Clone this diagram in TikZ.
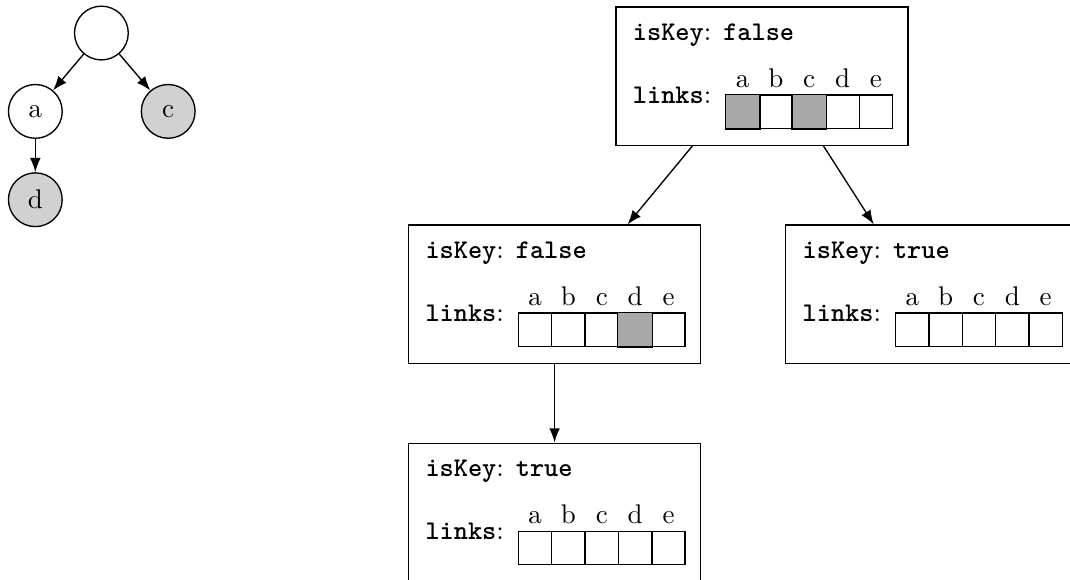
\documentclass[tikz,border=0pt]{standalone}
\usepackage{tikz}
\usepackage{xcolor}
\usetikzlibrary{positioning}
\usetikzlibrary{arrows.meta}
\usetikzlibrary{calc}

\begin{document}
\begin{tikzpicture}[
    line width=0.5pt,
    vertex/.style={draw, circle, minimum size=0.7cm, inner sep=0pt},
    leaf/.style={vertex, fill=black!18},
    trienode/.style={draw, minimum width=3.8cm, minimum height=1.8cm},
    cell/.style={draw, minimum size=0.434cm, inner sep=0pt},
    full/.style={draw, fill=black!34},
    arr/.style={-{Latex}}
]
    \path[use as bounding box, clip] (0,0) rectangle (13.93,-7.55);

    % Small tree
    \node[vertex] (root) at (1.32,-0.43) {};
    \node[vertex, on grid, below left=1.02cm and 0.86cm of root] (a) {a};
    \node[leaf, on grid, below right=1.02cm and 0.87cm of root] (c) {c};
    \node[leaf, on grid, below=1.15cm of a] (d) {d};
    \draw[arr] (root) -- (a);
    \draw[arr] (root) -- (c);
    \draw[arr] (a) -- (d);

    % Trie nodes
    \node[trienode] (top) at (9.92,-0.99) {};
    \node[trienode, on grid, below left=2.84cm and 2.70cm of top] (mid) {};
    \node[trienode, on grid, below right=2.84cm and 2.21cm of top] (right) {};
    \node[trienode, on grid, below=2.84cm of mid] (bot) {};

    % Fields and link arrays
    \foreach \bx/\val in {top/false, mid/false, right/true, bot/true} {
        \node[anchor=base west, inner sep=0pt] at ([shift={(0.22,-0.443)}]\bx.north west)
            {\texttt{\textbf{isKey}}: \texttt{\textbf{\val}}};
        \node[anchor=base west, inner sep=0pt] at ([shift={(0.22,-1.263)}]\bx.north west)
            {\texttt{\textbf{links}}:};
        \foreach \ch [count=\i from 0] in {a,b,c,d,e} {
            \node[cell, anchor=north west] (\bx-\ch) at ([shift={(1.43+0.434*\i,-1.146)}]\bx.north west) {};
            \node[anchor=base, inner sep=0pt] at ([yshift=2.5pt]\bx-\ch.north) {\ch};
        }
    }

    % Links that are set
    \foreach \c in {top-a, top-c, mid-d}
        \draw[full] (\c.north west) rectangle (\c.south east);

    % Edges of the trie
    \draw[arr] ([xshift=-0.905cm]top.south) -- ([xshift=0.95cm]mid.north);
    \draw[arr] ([xshift=0.80cm]top.south) -- ([xshift=-0.755cm]right.north);
    \draw[arr] (mid) -- (bot);
\end{tikzpicture}
\end{document}
